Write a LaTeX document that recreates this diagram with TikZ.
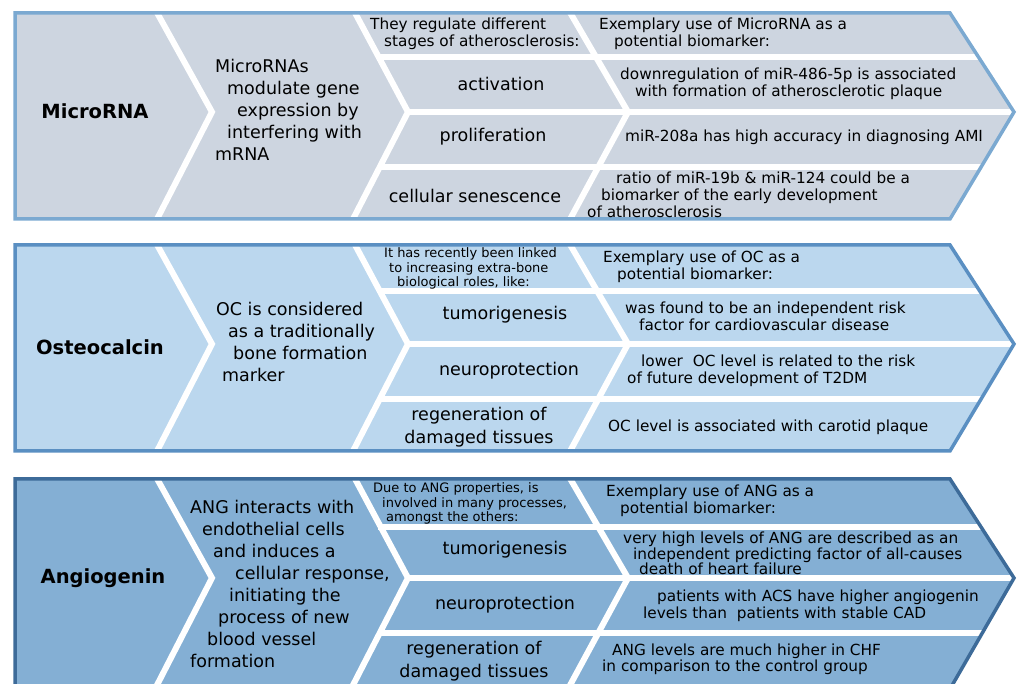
\documentclass[tikz,border=0pt]{standalone}
\usepackage{fontspec}
\setmainfont{DejaVu Sans}
\definecolor{microfill}{HTML}{CDD5E0}
\definecolor{microedge}{HTML}{7BA9D1}
\definecolor{osteofill}{HTML}{BBD7EE}
\definecolor{osteoedge}{HTML}{5A8FC2}
\definecolor{angiofill}{HTML}{84AFD4}
\definecolor{angioedge}{HTML}{3D6B99}

\begin{document}
\begin{tikzpicture}[x=1pt,y=-1pt,
  gap/.style={draw=white,line width=6pt},
  title/.style={inner sep=0pt,font=\fontsize{19.5}{23}\selectfont\bfseries},
  desc/.style={anchor=west,align=left,inner sep=0pt,font=\fontsize{17.5}{22}\selectfont},
  stage/.style={align=center,inner sep=0pt,font=\fontsize{17.5}{23}\selectfont},
  note/.style={anchor=west,align=left,inner sep=0pt,font=\fontsize{15.3}{17}\selectfont},
  small/.style={anchor=west,align=left,inner sep=0pt,font=\fontsize{13}{14.5}\selectfont}]
\useasboundingbox (0,0) rectangle (1018,684);

% the three bands
\foreach \t/\r/\b/\f/\e in {0/57/219/microfill/microedge,232/59/219/osteofill/osteoedge,466/61/223/angiofill/angioedge}{
  \begin{scope}[shift={(0,\t)}]
  \fill[fill=\f] (15,13) -- (950,13) -- (1014,112) -- (950,\b) -- (15,\b) -- cycle;
  \draw[gap] (155,9) -- (212,112) -- (155,223);
  \draw[gap] (353,9) -- (408,112) -- (351,223);
  \draw[gap] (568,9) -- (628,112) -- (568,223);
  \draw[gap] (378,\r) -- (1020,\r);
  \draw[gap] (405,112) -- (1020,112);
  \draw[gap] (378,167) -- (1020,167);
  \draw[draw=\e,line width=3.5pt] (15,13) -- (950,13) -- (1014,112) -- (950,\b) -- (15,\b) -- cycle;
  \end{scope}
}

% MicroRNA
\node[title] (mirna) at (95,111) {MicroRNA};
\node[desc] (mirnarole) at (215,110) {MicroRNAs\\\hspace*{12pt}modulate gene\\\hspace*{22pt}expression by\\\hspace*{12pt}interfering with\\mRNA};
\node[note] (mirnastages) at (370,34) {They regulate different\\\hspace*{14pt}stages of atherosclerosis:};
\node[note] (mirnause) at (599,34) {Exemplary use of MicroRNA as a\\\hspace*{15pt}potential biomarker:};
\node[stage] (activ) at (501,84) {activation};
\node[note] (activuse) at (620,83.5) {downregulation of miR-486-5p is associated\\\hspace*{15pt}with formation of atherosclerotic plaque};
\node[stage] (prolif) at (493,137) {proliferation};
\node[note] (prolifuse) at (625,137) {miR-208a has high accuracy in diagnosing AMI};
\node[stage] (senesc) at (475,196) {cellular senescence};
\node[note] (senescuse) at (587,195) {\hspace*{29pt}ratio of miR-19b \& miR-124 could be a\\\hspace*{14pt}biomarker of the early development\\of atherosclerosis};

% Osteocalcin
\node[title] (osteo) at (100,347) {Osteocalcin};
\node[desc] (osteorole) at (216,342) {OC is considered\\\hspace*{12pt}as a traditionally\\\hspace*{17pt}bone formation\\\hspace*{6pt}marker};
\node[small] (osteoroles) at (384,268.5) {It has recently been linked\\\hspace*{5pt}to increasing extra-bone\\\hspace*{13pt}biological roles, like:};
\node[note] (osteouse) at (603,267) {Exemplary use of OC as a\\\hspace*{14pt}potential biomarker:};
\node[stage] (osteotumor) at (505,315) {tumorigenesis};
\node[note] (osteotumoruse) at (625,316.5) {was found to be an independent risk\\\hspace*{14pt}factor for cardiovascular disease};
\node[stage] (osteoneuro) at (509,371) {neuroprotection};
\node[note] (osteoneurouse) at (627,371) {\hspace*{14pt}lower\ \ OC level is related to the risk\\of future development of T2DM};
\node[stage] (osteoregen) at (479,427) {regeneration of\\damaged tissues};
\node[note] (osteoregenuse) at (608,427) {OC level is associated with carotid plaque};

% Angiogenin
\node[title] (angio) at (103,578) {Angiogenin};
\node[desc] (angiorole) at (190,584) {ANG interacts with\\\hspace*{12pt}endothelial cells\\\hspace*{23pt}and induces a\\\hspace*{45pt}cellular response,\\\hspace*{39pt}initiating the\\\hspace*{28pt}process of new\\\hspace*{17pt}blood vessel\\formation};
\node[small] (angioroles) at (373,503.5) {Due to ANG properties, is\\\hspace*{9pt}involved in many processes,\\\hspace*{13pt}amongst the others:};
\node[note] (angiouse) at (606,501) {Exemplary use of ANG as a\\\hspace*{14pt}potential biomarker:};
\node[stage] (angiotumor) at (505,550) {tumorigenesis};
\node[note,font=\fontsize{15.3}{15.5}\selectfont] (angiotumoruse) at (623,553.5) {very high levels of ANG are described as an\\\hspace*{10pt}independent predicting factor of all-causes\\\hspace*{16pt}death of heart failure};
\node[stage] (angioneuro) at (505,605) {neuroprotection};
\node[note] (angioneurouse) at (643,605.5) {\hspace*{14pt}patients with ACS have higher angiogenin\\levels than\ \ patients with stable CAD};
\node[stage] (angioregen) at (474,661) {regeneration of\\damaged tissues};
\node[note,font=\fontsize{15.3}{16}\selectfont] (angioregenuse) at (602,659) {\hspace*{10pt}ANG levels are much higher in CHF\\in comparison to the control group};
\end{tikzpicture}
\end{document}
